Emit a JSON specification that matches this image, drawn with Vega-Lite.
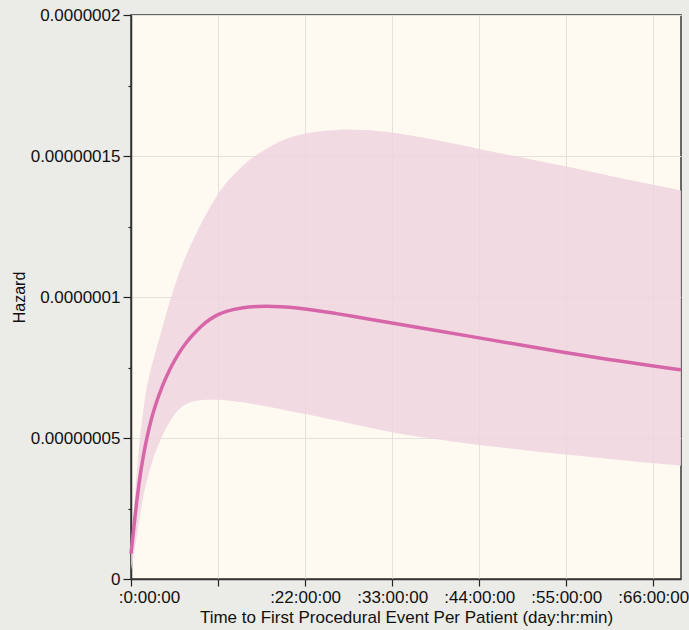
{
  "$schema": "https://vega.github.io/schema/vega-lite/v6.json",
  "width": 550,
  "height": 564,
  "autosize": "none",
  "padding": {"left": 131, "top": 15, "right": 8, "bottom": 51},
  "background": "#ebebe7",
  "config": {
    "view": {"fill": "#fefaf2", "stroke": "#3a3a3a", "strokeWidth": 1.5},
    "font": "Liberation Sans"
  },
  "data": {
    "values": [
      {"h": 0, "est": 0.9e-8, "lo": 0.3e-8, "hi": 1.2e-8},
      {"h": 0.5, "est": 2.2e-8, "lo": 1.1e-8, "hi": 2.9e-8},
      {"h": 1, "est": 3.4e-8, "lo": 2.0e-8, "hi": 4.7e-8},
      {"h": 1.5, "est": 4.3e-8, "lo": 2.9e-8, "hi": 5.9e-8},
      {"h": 2, "est": 5.0e-8, "lo": 3.5e-8, "hi": 6.85e-8},
      {"h": 2.5, "est": 5.6e-8, "lo": 4.0e-8, "hi": 7.45e-8},
      {"h": 3, "est": 6.1e-8, "lo": 4.45e-8, "hi": 7.95e-8},
      {"h": 4, "est": 6.9e-8, "lo": 5.12e-8, "hi": 8.95e-8},
      {"h": 5, "est": 7.5e-8, "lo": 5.65e-8, "hi": 9.95e-8},
      {"h": 6, "est": 8.0e-8, "lo": 6.03e-8, "hi": 10.8e-8},
      {"h": 7, "est": 8.4e-8, "lo": 6.22e-8, "hi": 11.52e-8},
      {"h": 8, "est": 8.72e-8, "lo": 6.31e-8, "hi": 12.12e-8},
      {"h": 9, "est": 9.0e-8, "lo": 6.35e-8, "hi": 12.68e-8},
      {"h": 10, "est": 9.22e-8, "lo": 6.36e-8, "hi": 13.2e-8},
      {"h": 11, "est": 9.38e-8, "lo": 6.36e-8, "hi": 13.66e-8},
      {"h": 12, "est": 9.5e-8, "lo": 6.34e-8, "hi": 14.05e-8},
      {"h": 14, "est": 9.62e-8, "lo": 6.27e-8, "hi": 14.65e-8},
      {"h": 16, "est": 9.67e-8, "lo": 6.18e-8, "hi": 15.08e-8},
      {"h": 18, "est": 9.67e-8, "lo": 6.07e-8, "hi": 15.42e-8},
      {"h": 20, "est": 9.64e-8, "lo": 5.96e-8, "hi": 15.66e-8},
      {"h": 22, "est": 9.58e-8, "lo": 5.85e-8, "hi": 15.8e-8},
      {"h": 24, "est": 9.5e-8, "lo": 5.74e-8, "hi": 15.88e-8},
      {"h": 26, "est": 9.41e-8, "lo": 5.62e-8, "hi": 15.93e-8},
      {"h": 28, "est": 9.32e-8, "lo": 5.5e-8, "hi": 15.94e-8},
      {"h": 30, "est": 9.22e-8, "lo": 5.37e-8, "hi": 15.92e-8},
      {"h": 33, "est": 9.08e-8, "lo": 5.2e-8, "hi": 15.84e-8},
      {"h": 38, "est": 8.84e-8, "lo": 4.97e-8, "hi": 15.6e-8},
      {"h": 44, "est": 8.55e-8, "lo": 4.75e-8, "hi": 15.25e-8},
      {"h": 50, "est": 8.26e-8, "lo": 4.56e-8, "hi": 14.91e-8},
      {"h": 55, "est": 8.02e-8, "lo": 4.41e-8, "hi": 14.63e-8},
      {"h": 60, "est": 7.8e-8, "lo": 4.27e-8, "hi": 14.33e-8},
      {"h": 66, "est": 7.55e-8, "lo": 4.11e-8, "hi": 13.98e-8},
      {"h": 69.5, "est": 7.42e-8, "lo": 4.02e-8, "hi": 13.78e-8}
    ]
  },
  "encoding": {
    "x": {
      "field": "h",
      "type": "quantitative",
      "scale": {"domain": [0, 69.5], "nice": false, "zero": false},
      "axis": {
        "title": "Time to First Procedural Event Per Patient (day:hr:min)",
        "values": [0, 11, 22, 33, 44, 55, 66],
        "labelExpr": "datum.value == 11 ? '' : ':' + datum.value + ':00:00'",
        "labelFontSize": 17,
        "labelColor": "#111",
        "labelPadding": 3,
        "labelOffset": {"condition": {"test": "datum.value == 0", "value": 18}, "value": 0},
        "labelFlush": false,
        "titleFontSize": 17,
        "titleFontWeight": "normal",
        "titleColor": "#111",
        "titlePadding": 4,
        "tickSize": 7,
        "tickColor": "#222",
        "tickWidth": 1.2,
        "domainColor": "#333",
        "domainWidth": 1.5,
        "grid": true,
        "gridColor": "#e4e0dc",
        "gridWidth": 1
      }
    },
    "y": {
      "type": "quantitative",
      "scale": {"domain": [0, 2e-7], "nice": false},
      "axis": {
        "title": "Hazard",
        "values": [0, 2.5e-8, 5e-8, 7.5e-8, 1e-7, 1.25e-7, 1.5e-7, 1.75e-7, 2e-7],
        "labelExpr": "round(datum.value * 4e7) % 2 == 0 ? format(datum.value, '.8~f') : ''",
        "labelFontSize": 17,
        "labelColor": "#111",
        "labelPadding": 3,
        "tickSize": {"condition": {"test": "round(datum.value * 4e7) % 2 == 0", "value": 8}, "value": 3},
        "tickColor": "#222",
        "tickWidth": 1.2,
        "domainColor": "#333",
        "domainWidth": 1.5,
        "grid": true,
        "gridColor": "#e4e0dc",
        "gridOpacity": {"condition": {"test": "round(datum.value * 4e7) % 2 == 0", "value": 1}, "value": 0},
        "titleFontSize": 16,
        "titleFontWeight": "normal",
        "titleColor": "#111",
        "titlePadding": 3
      }
    }
  },
  "layer": [
    {
      "mark": {"type": "area", "color": "#f0d3e0", "fillOpacity": 0.85, "interpolate": "basis"},
      "encoding": {"y": {"field": "lo"}, "y2": {"field": "hi"}}
    },
    {
      "mark": {"type": "line", "color": "#d766a9", "strokeWidth": 3.5, "interpolate": "basis"},
      "encoding": {"y": {"field": "est"}}
    }
  ]
}
